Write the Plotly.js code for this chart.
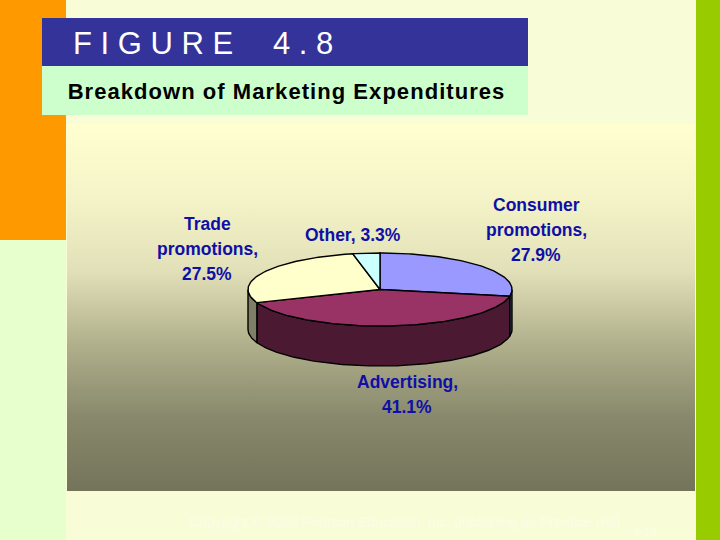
<!DOCTYPE html>
<html>
<head>
<meta charset="utf-8">
<script src="https://cdn.plot.ly/plotly-3.0.1.min.js"></script>
<style>html,body{margin:0;padding:0;background:#F8FDD8}
.annotation[data-index="9"] text{letter-spacing:1.05px}</style>
</head>
<body>
<div id="chart" style="width:720px;height:540px"></div>
<script>
var categories = ["Consumer promotions", "Advertising", "Trade promotions", "Other"];
var shares = [27.9, 41.1, 27.5, 3.3];
var labelLines = [["Consumer", "promotions,", "27.9%"], ["Advertising,", "41.1%"], ["Trade", "promotions,", "27.5%"], ["Other, 3.3%"]];
var topColors = ["#9999FF", "#993366", "#FFFFCC", "#CCFFFF"];
var sideColors = ["#4C4C7F", "#4C1933", "#7F7F66", "#667F7F"];
var panelStops = [[0, "#FFFFD0"], [0.2, "#F5F4C8"], [0.4, "#E2E0B8"], [0.6, "#B0B08C"], [0.8, "#88886C"], [1, "#74745A"]];

var cx = 380, cy = 289.5, rx = 132, ry = 36.5, depth = 40;
var total = shares.reduce(function (a, b) { return a + b; }, 0);

function pt(a, dy) {
  return [cx + rx * Math.sin(a), cy - ry * Math.cos(a) + (dy || 0)];
}
function rectTrace(x0, y0, x1, y1, color, extra) {
  var t = { x: [x0, x1, x1, x0, x0], y: [y0, y0, y1, y1, y0], mode: "lines", fill: "toself",
    fillcolor: color, line: { width: 0, color: color }, hoverinfo: "skip", showlegend: false };
  for (var k in extra) t[k] = extra[k];
  return t;
}
function arcPts(a0, a1) {
  var n = Math.max(2, Math.ceil(Math.abs(a1 - a0) / 0.02)), out = [];
  for (var i = 0; i <= n; i++) out.push(a0 + (a1 - a0) * i / n);
  return out;
}

var traces = [
  rectTrace(0, 0, 66, 240, "#FF9900"),
  rectTrace(0, 240, 66, 540, "#E6FFCC"),
  rectTrace(696, 0, 720, 540, "#99CC00"),
  rectTrace(67, 124, 695, 491, "#DDDDAA", {
    fillgradient: { type: "vertical", colorscale: panelStops.slice().reverse().map(function (s) { return [1 - s[0], s[1]]; }) }
  }),
  rectTrace(42, 18, 528, 66, "#333399"),
  rectTrace(42, 66, 528, 115, "#CCFFCC")
];

// cumulative boundaries of each slice, clockwise from twelve o'clock
var bounds = [0];
shares.forEach(function (v) { bounds.push(bounds[bounds.length - 1] + v / total * 2 * Math.PI); });

// outer wall, only the part of each slice facing the viewer (PI/2 .. 3PI/2)
shares.forEach(function (v, i) {
  var a0 = Math.max(bounds[i], Math.PI / 2), a1 = Math.min(bounds[i + 1], 3 * Math.PI / 2);
  if (a1 <= a0) return;
  var as = arcPts(a0, a1), xs = [], ys = [];
  as.forEach(function (a) { var p = pt(a); xs.push(p[0]); ys.push(p[1]); });
  as.slice().reverse().forEach(function (a) { var p = pt(a, depth); xs.push(p[0]); ys.push(p[1]); });
  xs.push(xs[0]); ys.push(ys[0]);
  traces.push({ x: xs, y: ys, mode: "lines", fill: "toself", fillcolor: sideColors[i], name: categories[i] + " side",
    line: { color: "#000", width: 1.4 }, hoverinfo: "skip", showlegend: false });
});

// top faces
shares.forEach(function (v, i) {
  var xs = [cx], ys = [cy];
  arcPts(bounds[i], bounds[i + 1]).forEach(function (a) { var p = pt(a); xs.push(p[0]); ys.push(p[1]); });
  xs.push(cx); ys.push(cy);
  traces.push({ x: xs, y: ys, mode: "lines", fill: "toself", fillcolor: topColors[i], name: categories[i],
    line: { color: "#000", width: 1.4 }, text: categories[i] + ", " + v + "%", hoverinfo: "text", showlegend: false });
});

function note(x, y, text, size, color, anchor, weight) {
  return { x: x, y: y, xref: "x", yref: "y", text: text, showarrow: false, xanchor: anchor || "left", yanchor: "middle",
    font: { family: "Liberation Sans, Arial, sans-serif", size: size, color: color, weight: weight || 400 } };
}

var labelX = [536, 407, 207, 353];
var labelY = [[205, 230, 255], [382, 407], [224, 249, 274], [235]];
var annotations = [];
labelLines.forEach(function (lines, i) {
  lines.forEach(function (line, j) {
    annotations.push(note(labelX[i], labelY[i][j], line, 17.5, "#0F0FA8", "center", 700));
  });
});
annotations.push(note(83.5, 91, "Breakdown of Marketing Expenditures", 22, "#000000", "left", 700)); // index 9
annotations.push(note(71, 43.5, "F I G U R E", 31, "#FFFFFF"));
annotations.push(note(271, 43.5, "4 . 8", 31, "#FFFFFF"));
annotations.push(note(187, 522, "Copyright © 2010 Pearson Education, Inc. publishing as Prentice Hall", 14, "#FBFEE6"));
annotations.push(note(631, 531.5, "4-19", 12, "#FBFEE6"));

Plotly.newPlot("chart", traces, {
  width: 720, height: 540, margin: { l: 0, r: 0, t: 0, b: 0 },
  paper_bgcolor: "#F8FDD8", plot_bgcolor: "#F8FDD8", showlegend: false,
  xaxis: { range: [0, 720], visible: false, fixedrange: true },
  yaxis: { range: [540, 0], visible: false, fixedrange: true },
  annotations: annotations
}, { displayModeBar: false, staticPlot: true });
</script>
</body>
</html>
